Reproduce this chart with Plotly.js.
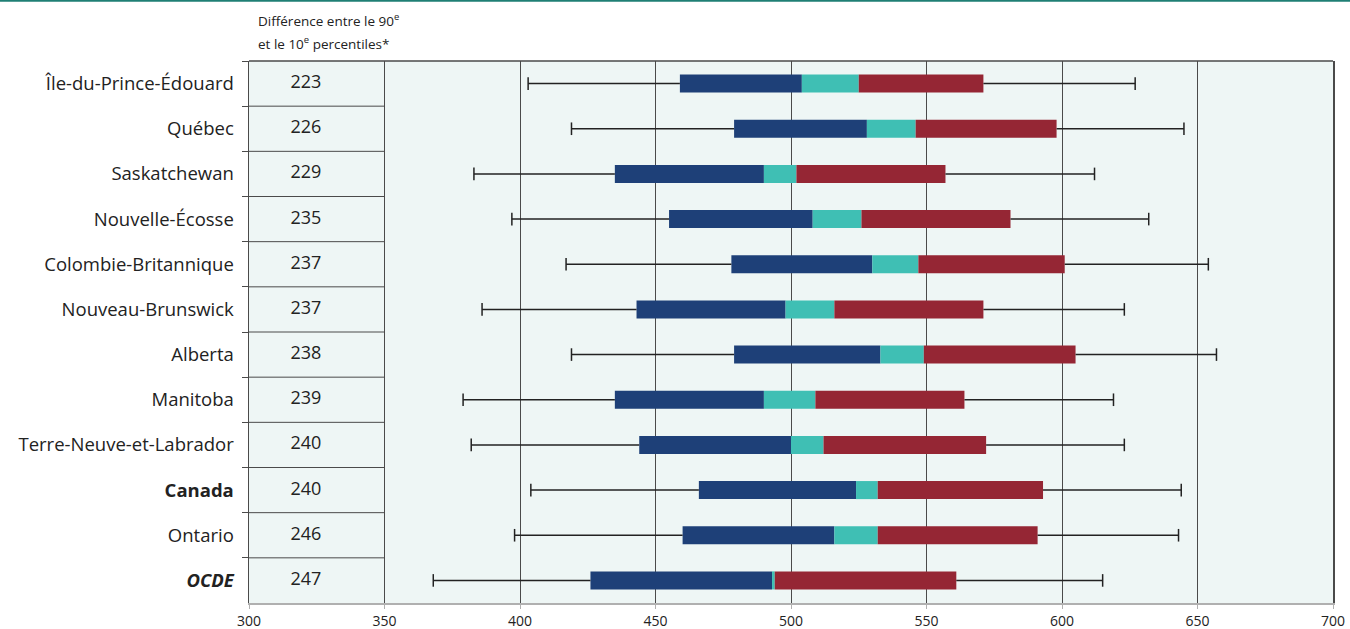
<!DOCTYPE html>
<html>
<head>
<meta charset="utf-8">
<script src="https://cdn.plot.ly/plotly-3.0.1.min.js"></script>
<style>
  html, body { margin: 0; padding: 0; background: #ffffff; }
  #chart { width: 1350px; height: 629px; }
</style>
</head>
<body>
<div id="chart"></div>
<script>
// ---- Data ----
const categories = [
  'Île-du-Prince-Édouard', 'Québec', 'Saskatchewan', 'Nouvelle-Écosse',
  'Colombie-Britannique', 'Nouveau-Brunswick', 'Alberta', 'Manitoba',
  'Terre-Neuve-et-Labrador', '<b>Canada</b>', 'Ontario', '<b><i>OCDE</i></b>'
];
const p10    = [403, 419, 383, 397, 417, 386, 419, 379, 382, 404, 398, 368];
const p25    = [459, 479, 435, 455, 478, 443, 479, 435, 444, 466, 460, 426];
const ciLow  = [504, 528, 490, 508, 530, 498, 533, 490, 500, 524, 516, 493];
const ciHigh = [525, 546, 502, 526, 547, 516, 549, 509, 512, 532, 532, 494];
const p75    = [571, 598, 557, 581, 601, 571, 605, 564, 572, 593, 591, 561];
const p90    = [627, 645, 612, 632, 654, 623, 657, 619, 623, 644, 643, 615];
const gap    = ['223', '226', '229', '235', '237', '237', '238', '239', '240', '240', '246', '247'];
const xTicks = [300, 350, 400, 450, 500, 550, 600, 650, 700];

// ---- Styles ----
const BLUE = '#1e4078', TEAL = '#3fbfb4', RED = '#952634';
const BG = '#eef6f5', TXT = '#222222', GRID = '#4a4a4a';
const FONT = '"Open Sans", Lato, sans-serif';

const diff = (a, b) => a.map((v, i) => v - b[i]);

const barCommon = {
  type: 'bar', orientation: 'h', y: categories, width: 0.4,
  hoverinfo: 'skip', showlegend: false
};

// whisker segments built from the percentile arrays
const wx = [], wy = [], cx = [], cy = [];
categories.forEach((c, i) => {
  wx.push(p10[i], p25[i], null, p75[i], p90[i], null);
  wy.push(c, c, null, c, c, null);
  cx.push(p10[i], p90[i]);
  cy.push(c, c);
});

const traces = [
  {
    type: 'scatter', mode: 'lines', x: wx, y: wy, connectgaps: false,
    line: { color: '#222', width: 1.5 }, hoverinfo: 'skip', showlegend: false
  },
  {
    type: 'scatter', mode: 'markers', x: cx, y: cy,
    marker: { symbol: 'line-ns-open', size: 9, color: '#222', line: { color: '#222', width: 1.5 } },
    hoverinfo: 'skip', showlegend: false
  },
  Object.assign({}, barCommon, { base: p25, x: diff(ciLow, p25), marker: { color: BLUE, line: { width: 0 } } }),
  Object.assign({}, barCommon, { base: ciLow, x: diff(ciHigh, ciLow), marker: { color: TEAL, line: { width: 0 } } }),
  Object.assign({}, barCommon, { base: ciHigh, x: diff(p75, ciHigh), marker: { color: RED, line: { width: 0 } } }),
  {
    type: 'scatter', mode: 'text', x: categories.map(() => 321), y: categories, text: gap,
    textposition: 'middle center', textfont: { family: FONT, size: 18, color: TXT },
    hoverinfo: 'skip', showlegend: false, cliponaxis: false
  }
];

// row separators inside the value column (300 - 350)
const shapes = [];
for (let i = 0; i < categories.length - 1; i++) {
  shapes.push({ type: 'line', xref: 'x', yref: 'y', x0: 300, x1: 350, y0: i + 0.5, y1: i + 0.5,
                line: { color: GRID, width: 1 }, layer: 'above' });
}
// top border of plot
shapes.push({ type: 'line', xref: 'paper', yref: 'paper', x0: 0, x1: 1, y0: 1, y1: 1,
              line: { color: GRID, width: 1.5 }, layer: 'above' });
// green rule at very top of the page
shapes.push({ type: 'line', xref: 'paper', yref: 'paper', x0: -0.23, x1: 1.02, y0: 1.111, y1: 1.111,
              line: { color: '#1f7f74', width: 2 } });

const layout = {
  width: 1350, height: 629,
  margin: { l: 249, r: 17, t: 61, b: 26, pad: 0 },
  paper_bgcolor: '#ffffff', plot_bgcolor: BG,
  barmode: 'overlay',
  font: { family: FONT, color: TXT },
  xaxis: {
    range: [300, 700], tickmode: 'array', tickvals: xTicks, ticktext: xTicks.map(String),
    showgrid: true, gridcolor: GRID, gridwidth: 1,
    showline: true, linecolor: '#b0b0b0', linewidth: 2,
    ticks: 'outside', ticklen: 4, tickcolor: '#b0b0b0',
    tickfont: { family: FONT, size: 14, color: TXT }, zeroline: false, fixedrange: true
  },
  yaxis: {
    type: 'category', categoryorder: 'array', categoryarray: categories,
    range: [categories.length - 0.5, -0.5], autorange: false,
    tickson: 'boundaries', ticks: 'outside', ticklen: 6, tickcolor: GRID,
    showgrid: false, showline: true, linecolor: GRID, linewidth: 1.5, mirror: true,
    tickfont: { family: FONT, size: 18.5, color: TXT }, ticklabelstandoff: 10, fixedrange: true
  },
  shapes: shapes,
  annotations: [
    { xref: 'paper', yref: 'paper', x: 0.0065, y: 1.097, xanchor: 'left', yanchor: 'top',
      text: 'Différence entre le 90<sup>e</sup>', showarrow: false,
      font: { family: FONT, size: 13.5, color: TXT } },
    { xref: 'paper', yref: 'paper', x: 0.0065, y: 1.056, xanchor: 'left', yanchor: 'top',
      text: 'et le 10<sup>e</sup> percentiles*', showarrow: false,
      font: { family: FONT, size: 13.5, color: TXT } }
  ]
};

Plotly.newPlot('chart', traces, layout, { displayModeBar: false, staticPlot: true });
</script>
</body>
</html>
